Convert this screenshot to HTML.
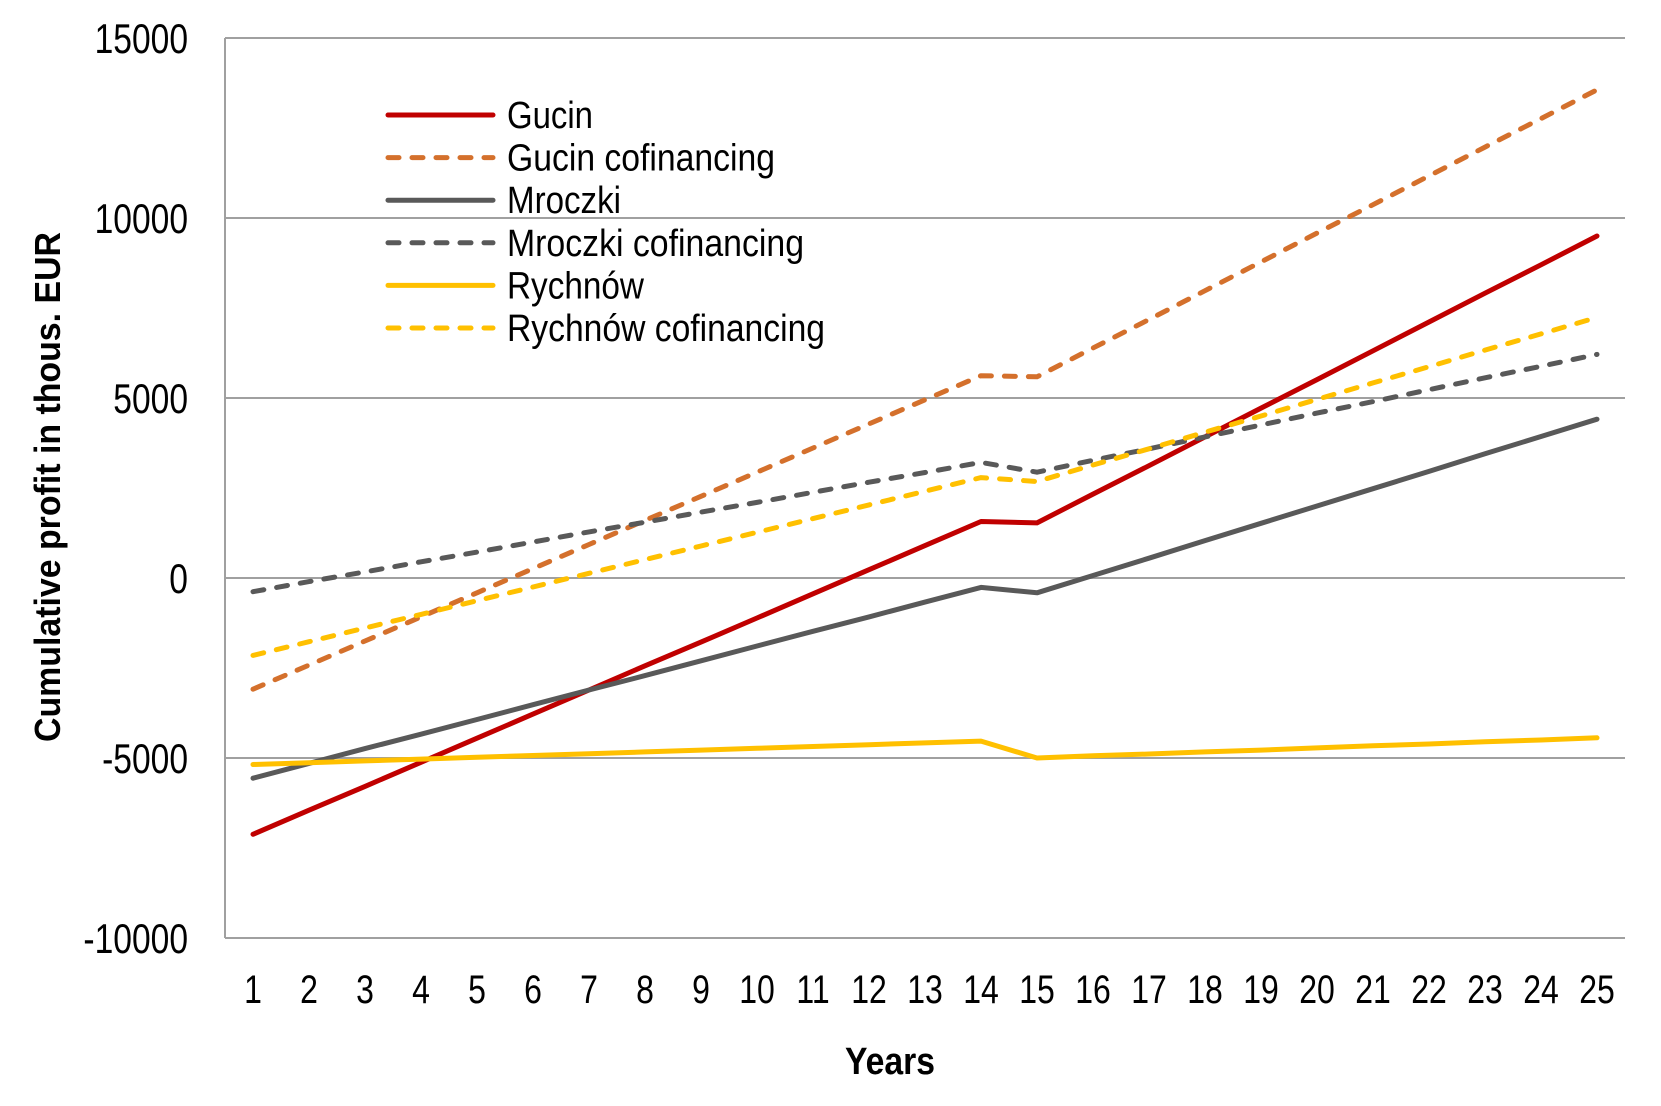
<!DOCTYPE html>
<html><head><meta charset="utf-8"><style>
html,body{margin:0;padding:0;background:#fff;}
svg{display:block;font-family:"Liberation Sans",Arial,sans-serif;}
</style></head><body>
<svg id="chart" width="1661" height="1106" viewBox="0 0 1661 1106">
<g id="grid"></g>
<g id="yticks"></g>
<g id="xticks"></g>
<g id="series"></g>
<g id="legend"></g>
<text x="0" y="0" transform="translate(60,487) rotate(-90)" text-anchor="middle" font-weight="bold" font-size="36" textLength="510" lengthAdjust="spacingAndGlyphs">Cumulative profit in thous. EUR</text>
<text x="890" y="1074" text-anchor="middle" font-weight="bold" font-size="38" textLength="90" lengthAdjust="spacingAndGlyphs">Years</text>
</svg>
<script>
const years = [1,2,3,4,5,6,7,8,9,10,11,12,13,14,15,16,17,18,19,20,21,22,23,24,25];
const yTicks = [15000,10000,5000,0,-5000,-10000];
const gucin = [-7120,-6450,-5790,-5120,-4450,-3780,-3110,-2440,-1780,-1110,-440,230,900,1570,1530,2330,3120,3920,4720,5510,6310,7110,7910,8700,9500];
const gucinCof = [-3090,-2420,-1750,-1080,-410,260,930,1600,2270,2940,3610,4280,4950,5620,5590,6390,7180,7980,8780,9580,10370,11170,11970,12760,13560];
const mroczki = [-5560,-5150,-4740,-4340,-3930,-3520,-3110,-2710,-2300,-1890,-1480,-1080,-670,-260,-410,70,550,1040,1520,2000,2480,2960,3450,3930,4410];
const mroczkiCof = [-380,-100,170,450,720,1000,1280,1550,1830,2100,2380,2660,2930,3210,2940,3270,3590,3920,4250,4580,4900,5230,5560,5880,6210];
const rychnow = [-5180,-5130,-5080,-5030,-4980,-4930,-4880,-4830,-4780,-4730,-4680,-4630,-4580,-4530,-5000,-4940,-4890,-4830,-4780,-4720,-4660,-4610,-4550,-4500,-4440];
const rychnowCof = [-2150,-1770,-1390,-1010,-630,-250,130,510,890,1270,1650,2030,2410,2790,2680,3140,3590,4050,4500,4960,5420,5870,6330,6780,7240];
const seriesNames = ["Gucin","Gucin cofinancing","Mroczki","Mroczki cofinancing","Rychnów","Rychnów cofinancing"];

const NS="http://www.w3.org/2000/svg";
const L=225,R=1625,T=38,B=938,YMAX=15000,YMIN=-10000;
function xScale(i){return L+(R-L)/years.length*(i+0.5);}
function yScale(v){return T+(YMAX-v)/(YMAX-YMIN)*(B-T);}
function mk(tag,attrs,parent){const e=document.createElementNS(NS,tag);for(const k in attrs)e.setAttribute(k,attrs[k]);parent.appendChild(e);return e;}

const grid=document.getElementById('grid');
const yt=document.getElementById('yticks');
yTicks.forEach(v=>{
  const y=yScale(v);
  const ln=mk('line',{x1:L,x2:R,y1:y,y2:y,stroke:'#a0a0a0','stroke-width':2},grid);
  
  
  const t=mk('text',{x:0,y:0,'text-anchor':'end','font-size':42,transform:`translate(188,${y+15}) scale(0.8,1)`},yt);
  t.textContent=String(v);
  
  
});
const ax=mk('line',{x1:L,x2:L,y1:T,y2:B,stroke:'#a0a0a0','stroke-width':2},grid);



const xt=document.getElementById('xticks');
years.forEach((yv,i)=>{
  const t=mk('text',{x:0,y:0,'text-anchor':'middle','font-size':40,transform:`translate(${xScale(i)},1003) scale(0.8,1)`},xt);
  t.textContent=String(yv);
  
  
});

const defs=[
  {d:gucin,c:'#C00000',dash:null},
  {d:gucinCof,c:'#D4702C',dash:'11 13'},
  {d:mroczki,c:'#595959',dash:null},
  {d:mroczkiCof,c:'#595959',dash:'11 13'},
  {d:rychnow,c:'#FFC000',dash:null},
  {d:rychnowCof,c:'#FFC000',dash:'11 13'}
];
const sg=document.getElementById('series');
defs.forEach((s,k)=>{
  const pts=s.d.map((v,i)=>xScale(i).toFixed(1)+','+yScale(v).toFixed(1)).join(' ');
  const a={points:pts,fill:'none',stroke:s.c,'stroke-width':5,'stroke-linecap':'round','stroke-linejoin':'round'};
  if(s.dash)a['stroke-dasharray']=s.dash;
  const p=mk('polyline',a,sg);
  
  
});

const lg=document.getElementById('legend');
const lw=[86,268,114,297,137,318];
defs.forEach((s,k)=>{
  const y=115+k*42.6;
  const a={x1:388,x2:493,y1:y,y2:y,stroke:s.c,'stroke-width':5,'stroke-linecap':'round'};
  if(s.dash)a['stroke-dasharray']='11 13';
  const ln=mk('line',a,lg);
  
  
  const t=mk('text',{x:507,y:y+13,'font-size':38,textLength:lw[k],lengthAdjust:'spacingAndGlyphs'},lg);
  t.textContent=seriesNames[k];
  
  
});
</script>
</body></html>
